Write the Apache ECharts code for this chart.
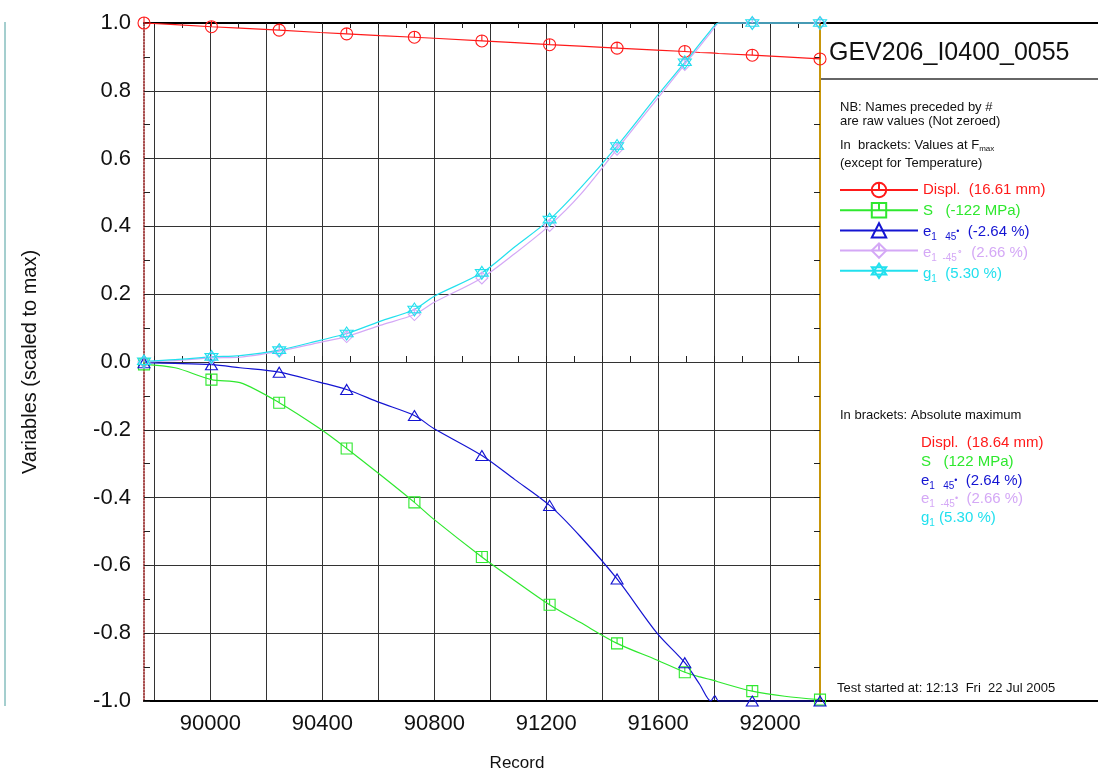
<!DOCTYPE html>
<html><head><meta charset="utf-8">
<script src="https://cdn.jsdelivr.net/npm/echarts@6/dist/echarts.min.js"></script>
<style>html,body{margin:0;padding:0;background:#fff}#c{width:1098px;height:776px}</style>
</head><body><div id="c"></div>
<script>
// ---------- data ----------
const records = [89763, 89874, 90004, 90106, 90246, 90392, 90487, 90606, 90729, 90800, 90970, 91088, 91212, 91321, 91453, 91595, 91695, 91749, 91788, 91802, 91816, 91936, 92052, 92178];
const markerRecords = [89763, 90004, 90246, 90487, 90729, 90970, 91212, 91453, 91695, 91936, 92178];
const displ  = [1.000, 0.995, 0.989, 0.985, 0.979, 0.972, 0.968, 0.963, 0.958, 0.955, 0.947, 0.942, 0.936, 0.932, 0.926, 0.920, 0.916, 0.913, 0.912, 0.911, 0.910, 0.905, 0.900, 0.894];
const stress = [-0.007, -0.017, -0.052, -0.061, -0.120, -0.197, -0.255, -0.332, -0.414, -0.465, -0.575, -0.645, -0.716, -0.768, -0.830, -0.879, -0.915, -0.929, -0.937, -0.940, -0.944, -0.971, -0.986, -0.996];
const e45    = [-0.002, -0.004, -0.008, -0.017, -0.030, -0.060, -0.081, -0.120, -0.158, -0.197, -0.276, -0.347, -0.423, -0.514, -0.640, -0.799, -0.887, -0.952, -1.000, -0.985, -1.000, -1.000, -1.000, -1.000];
const eM45   = [0.000, 0.004, 0.012, 0.014, 0.032, 0.058, 0.075, 0.108, 0.140, 0.176, 0.248, 0.320, 0.403, 0.493, 0.628, 0.775, 0.878, 0.932, 0.972, 0.988, 1.000, 1.000, 1.000, 1.000];
const g1     = [0.002, 0.007, 0.015, 0.019, 0.035, 0.064, 0.084, 0.120, 0.155, 0.194, 0.263, 0.340, 0.420, 0.512, 0.637, 0.784, 0.884, 0.939, 0.979, 0.993, 1.000, 1.000, 1.000, 1.000];
const xLabelValues = [90000, 90400, 90800, 91200, 91600, 92000];
const xGridValues = [89800, 90000, 90200, 90400, 90600, 90800, 91000, 91200, 91400, 91600, 91800, 92000];
const xMinorValues = [89800, 89900, 90000, 90100, 90200, 90300, 90400, 90500, 90600, 90700, 90800, 90900, 91000, 91100, 91200, 91300, 91400, 91500, 91600, 91700, 91800, 91900, 92000, 92100];
const seriesNames = ['Displ.', 'S', 'e1_45', 'e1_-45', 'g1'];
const seriesColors = ['#ff1a1a', '#2ee82e', '#1414d2', '#d4a8f6', '#22e0ee'];
const xMin = 89763, xMax = 92178, yMin = -1, yMax = 1, yStep = 0.2;

const F = 'Liberation Sans, Arial, Helvetica, sans-serif';
const SYM = {
  circle: 'path://M0,-10 A10,10 0 1 1 0,10 A10,10 0 1 1 0,-10 Z M0,-10 L0,0',
  square: 'path://M-10,-10 L10,-10 L10,10 L-10,10 Z M0,-10 L0,0',
  triangle: 'path://M0,-10 L10,10 L-10,10 Z',
  diamond: 'path://M0,-10 L10,0 L0,10 L-10,0 Z M0,-10 L0,0',
  star: 'path://M0,-10 L8.66,5 L-8.66,5 Z M0,10 L-8.66,-5 L8.66,-5 Z'
};
const symbols = [SYM.circle, SYM.square, SYM.triangle, SYM.diamond, SYM.star];
const symSizes = [12, 11, [12, 10], 12, 13];
const values = [displ, stress, e45, eM45, g1];
const smoothness = [0, 0.3, 0.3, 0.3, 0.3];

// legend / note texts (rich)
const keys = ['r', 'g', 'b', 'v', 'c'];
const zRich = {};
keys.forEach((k, i) => {
  const c = seriesColors[i];
  zRich[k] = {fill: c, fontSize: 15, lineHeight: 20, fontFamily: F};
  zRich[k + 's'] = {fill: c, fontSize: 10, lineHeight: 10, verticalAlign: 'bottom', fontFamily: F};
  zRich[k + 'd'] = {fill: c, fontSize: 9, lineHeight: 20, fontFamily: F};
});
zRich.n = {fill: '#111', fontSize: 13, lineHeight: 16, fontFamily: F};
zRich.ns = {fill: '#111', fontSize: 8, lineHeight: 8, verticalAlign: 'bottom', fontFamily: F};

const legendText = [
  '{r|Displ.  (16.61 mm)}',
  '{g|S   (-122 MPa)}',
  '{b|e}{bs|1   45}{bd|•}{b|  (-2.64 %)}',
  '{v|e}{vs|1  -45}{vd|∘}{v|  (2.66 %)}',
  '{c|g}{cs|1}{c|  (5.30 %)}'
];
const absText = [
  '{r|Displ.  (18.64 mm)}',
  '{g|S   (122 MPa)}',
  '{b|e}{bs|1   45}{bd|•}{b|  (2.64 %)}',
  '{v|e}{vs|1  -45}{vd|•}{v|  (2.66 %)}',
  '{c|g}{cs|1}{c| (5.30 %)}'
];

const series = seriesNames.map((name, i) => ({
  type: 'line', name,
  symbol: symbols[i], symbolSize: symSizes[i], showSymbol: true, clip: false,
  smooth: smoothness[i],
  lineStyle: {color: seriesColors[i], width: 1.2},
  itemStyle: {color: 'rgba(255,255,255,0)', borderColor: seriesColors[i], borderWidth: 1.1},
  emphasis: {disabled: true}, silent: true, animation: false,
  data: records.map((r, j) => ({value: [r, values[i][j]], symbol: markerRecords.includes(r) ? symbols[i] : 'none'}))
}));

function noteText(x, y, text) {
  return {type: 'text', x, y, silent: true,
    style: {text, fill: '#111', font: '13px ' + F, verticalAlign: 'middle', align: 'left', rich: zRich}};
}

const graphics = [
  {type: 'line', shape: {x1: 820, y1: 23, x2: 1098, y2: 23}, style: {stroke: '#000', lineWidth: 2}},
  {type: 'line', shape: {x1: 820, y1: 79, x2: 1098, y2: 79}, style: {stroke: '#333', lineWidth: 1.5}},
  {type: 'line', shape: {x1: 820, y1: 701, x2: 1098, y2: 701}, style: {stroke: '#000', lineWidth: 2}},
  {type: 'line', shape: {x1: 5, y1: 22, x2: 5, y2: 706}, style: {stroke: '#4a9e9e', lineWidth: 1}},
  {type: 'text', x: 829, y: 53, style: {text: 'GEV206_I0400_0055', fill: '#111', font: '25px ' + F, verticalAlign: 'middle'}},
  noteText(840, 107, 'NB: Names preceded by #'),
  noteText(840, 121, 'are raw values (Not zeroed)'),
  noteText(840, 145, '{n|In  brackets: Values at F}{ns|max}'),
  noteText(840, 163, '(except for Temperature)'),
  noteText(840, 415, 'In brackets: Absolute maximum'),
  noteText(837, 688, 'Test started at: 12:13  Fri  22 Jul 2005'),
  {type: 'text', x: 517, y: 763, style: {text: 'Record', fill: '#111', font: '17px ' + F, align: 'center', verticalAlign: 'middle'}}
];
const legY = [190, 211, 232, 253, 274];
legendText.forEach((t, i) => graphics.push({type: 'text', x: 923, y: legY[i], silent: true,
  style: {text: t, rich: zRich, verticalAlign: 'middle', align: 'left', font: '15px ' + F}}));
const absY = [443, 462, 481, 499, 518];
absText.forEach((t, i) => graphics.push({type: 'text', x: 921, y: absY[i], silent: true,
  style: {text: t, rich: zRich, verticalAlign: 'middle', align: 'left', font: '15px ' + F}}));

const tickStyle = {color: '#222', width: 1};
const option = {
  backgroundColor: '#fff',
  animation: false,
  grid: {left: 144, right: 278, top: 23, bottom: 75, outerBoundsMode: 'none', containLabel: false},
  xAxis: [
    {type: 'value', position: 'bottom', min: xMin, max: xMax,
      axisLine: {show: true, onZero: false, lineStyle: {color: '#000', width: 2}},
      axisTick: {show: false, customValues: xGridValues},
      axisLabel: {customValues: xLabelValues, fontSize: 22, fontFamily: F, color: '#111', margin: 12,
        formatter: v => String(Math.round(v))},
      splitLine: {show: true, lineStyle: {color: '#333', width: 1}}},
    {type: 'value', position: 'bottom', min: xMin, max: xMax,
      axisLine: {show: false}, axisLabel: {show: false}, splitLine: {show: false},
      axisTick: {show: true, inside: true, length: 6, customValues: xMinorValues, lineStyle: tickStyle}},
    {type: 'value', position: 'top', min: xMin, max: xMax,
      axisLine: {show: true, onZero: false, lineStyle: {color: '#000', width: 2}},
      axisLabel: {show: false}, splitLine: {show: false},
      axisTick: {show: true, inside: true, length: 5, customValues: xMinorValues, lineStyle: tickStyle}}
  ],
  yAxis: [
    {type: 'value', position: 'left', min: yMin, max: yMax, interval: yStep,
      name: 'Variables (scaled to max)', nameLocation: 'middle', nameGap: 104,
      nameTextStyle: {fontSize: 20, fontFamily: F, color: '#111'},
      axisLine: {show: true, onZero: false, lineStyle: {color: '#8a1010', type: 'dotted', width: 1.5}},
      axisTick: {show: true, inside: true, length: 6, lineStyle: tickStyle},
      minorTick: {show: true, splitNumber: 2, length: 6, lineStyle: tickStyle},
      axisLabel: {fontSize: 22, fontFamily: F, color: '#111', margin: 13,
        formatter: v => (Math.abs(v) < 1e-9 ? 0 : v).toFixed(1)},
      splitLine: {show: true, lineStyle: {color: '#333', width: 1}}},
    {type: 'value', position: 'right', min: yMin, max: yMax, interval: yStep,
      axisLine: {show: true, onZero: false, lineStyle: {color: '#c8960a', width: 2}},
      axisTick: {show: true, inside: true, length: 6, lineStyle: tickStyle},
      minorTick: {show: true, splitNumber: 2, length: 6, lineStyle: tickStyle},
      axisLabel: {show: false}, splitLine: {show: false}}
  ],
  legend: {
    orient: 'vertical', left: 839, top: 181, itemWidth: 78, itemHeight: 18, itemGap: 3,
    padding: 0, selectedMode: false, data: seriesNames,
    formatter: () => '',
    textStyle: {fontFamily: F, fontSize: 15}
  },
  graphic: graphics,
  series
};
const chart = echarts.init(document.getElementById('c'), null, {renderer: 'canvas'});
chart.setOption(option);
</script></body></html>
